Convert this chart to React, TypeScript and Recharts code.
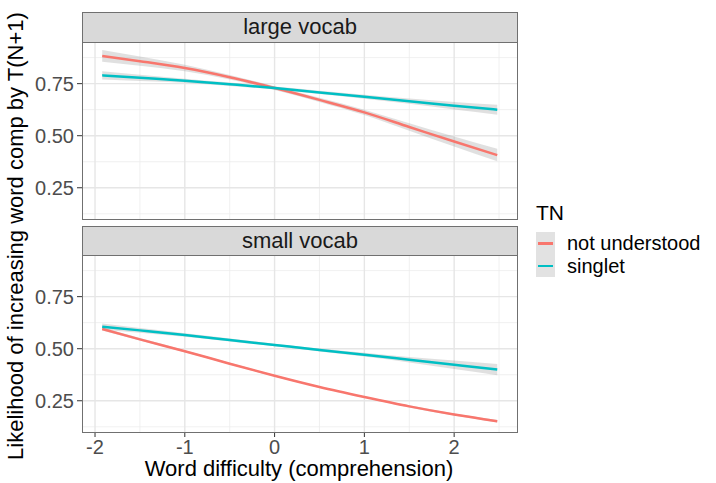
import { ComposedChart, Area, Line, XAxis, YAxis, CartesianGrid } from "recharts";

const xs = [-1.92, -1.5, -1, -0.5, 0, 0.5, 1, 1.5, 2, 2.48];

// large vocab facet
const largeNotUnderstood = [0.883, 0.858, 0.825, 0.781, 0.729, 0.672, 0.612, 0.542, 0.472, 0.407];
const largeNotUnderstoodSe = [0.028, 0.022, 0.016, 0.011, 0.009, 0.01, 0.013, 0.018, 0.024, 0.03];
const largeSinglet = [0.79, 0.778, 0.764, 0.747, 0.729, 0.708, 0.687, 0.666, 0.644, 0.625];
const largeSingletSe = [0.02, 0.015, 0.01, 0.008, 0.007, 0.008, 0.01, 0.013, 0.018, 0.024];

// small vocab facet
const smallNotUnderstood = [0.595, 0.545, 0.488, 0.428, 0.37, 0.316, 0.268, 0.223, 0.184, 0.152];
const smallNotUnderstoodSe = [0.008, 0.006, 0.005, 0.004, 0.004, 0.004, 0.004, 0.005, 0.005, 0.006];
const smallSinglet = [0.606, 0.588, 0.566, 0.542, 0.518, 0.494, 0.471, 0.447, 0.423, 0.4];
const smallSingletSe = [0.015, 0.011, 0.008, 0.007, 0.006, 0.007, 0.009, 0.013, 0.02, 0.027];

const xTicks = [-2, -1, 0, 1, 2];
const xMinor = [-1.5, -0.5, 0.5, 1.5, 2.5];
const yTicks = [0.25, 0.5, 0.75];
const yMinor = [0.125, 0.375, 0.625, 0.875];
const facetNames = ["large vocab", "small vocab"];
const legendTitle = "TN";
const legendItems = ["not understood", "singlet"];
const colors = ["#F8766D", "#00BFC4"];

const FONT = "'Liberation Sans', Arial, sans-serif";

function rows(nu: number[], nuSe: number[], sg: number[], sgSe: number[]) {
  return xs.map((x, i) => ({
    x,
    nu: nu[i],
    nuBand: [nu[i] - nuSe[i], nu[i] + nuSe[i]],
    sg: sg[i],
    sgBand: [sg[i] - sgSe[i], sg[i] + sgSe[i]],
  }));
}

const largeRows = rows(largeNotUnderstood, largeNotUnderstoodSe, largeSinglet, largeSingletSe);
const smallRows = rows(smallNotUnderstood, smallNotUnderstoodSe, smallSinglet, smallSingletSe);

const tickStyle = { fontSize: 20, fill: "#4d4d4d", fontFamily: FONT };

function Panel({ data, showX, height, margin }: { data: any[]; showX: boolean; height: number; margin: any }) {
  return (
    <ComposedChart width={716} height={height} data={data} margin={margin}>
      <CartesianGrid stroke="#ececec" strokeWidth={0.8} horizontalValues={yMinor} verticalValues={xMinor} />
      <CartesianGrid stroke="#e6e6e6" strokeWidth={1.4} horizontalValues={yTicks} verticalValues={xTicks} />
      <XAxis
        type="number"
        dataKey="x"
        domain={[-2.145, 2.7]}
        ticks={xTicks}
        hide={!showX}
        height={30}
        axisLine={false}
        tickSize={5}
        tickMargin={3}
        tickLine={{ stroke: "#333" }}
        tick={tickStyle}
        allowDataOverflow
      />
      <YAxis
        type="number"
        domain={[0.1, 0.95]}
        ticks={yTicks}
        width={82}
        axisLine={false}
        tickSize={5}
        tickMargin={3}
        tickLine={{ stroke: "#333" }}
        tick={tickStyle}
        tickFormatter={(v: number) => v.toFixed(2)}
        allowDataOverflow
      />
      <Area dataKey="nuBand" type="monotone" stroke="none" fill="#999999" fillOpacity={0.3} isAnimationActive={false} />
      <Line dataKey="nu" type="monotone" stroke={colors[0]} strokeWidth={2.5} dot={false} isAnimationActive={false} />
      <Area dataKey="sgBand" type="monotone" stroke="none" fill="#999999" fillOpacity={0.3} isAnimationActive={false} />
      <Line dataKey="sg" type="monotone" stroke={colors[1]} strokeWidth={2.5} dot={false} isAnimationActive={false} />
    </ComposedChart>
  );
}

const abs = (left: number, top: number, width: number, height: number): any => ({
  position: "absolute",
  left,
  top,
  width,
  height,
  boxSizing: "border-box",
});

export default function App() {
  return (
    <div style={{ position: "absolute", left: 0, top: 0, width: 716, height: 483, background: "#fff", fontFamily: FONT }}>
      <div style={abs(0, 0, 716, 225)}>
        <Panel data={largeRows} showX={false} height={225} margin={{ top: 42, right: 199, bottom: 6, left: 0 }} />
      </div>
      <div style={abs(0, 225, 716, 258)}>
        <Panel data={smallRows} showX={true} height={258} margin={{ top: 30, right: 199, bottom: 21, left: 0 }} />
      </div>

      {/* panel borders */}
      <div style={{ ...abs(82, 42, 436, 178), border: "1.5px solid #707070", pointerEvents: "none" }} />
      <div style={{ ...abs(82, 255, 436, 178), border: "1.5px solid #707070", pointerEvents: "none" }} />

      {/* strips */}
      {facetNames.map((name, i) => (
        <div
          key={name}
          style={{
            ...abs(82, i === 0 ? 12 : 226, 436, i === 0 ? 31 : 30),
            background: "#d9d9d9",
            border: "1.5px solid #707070",
            fontSize: 22,
            color: "#1a1a1a",
            textAlign: "center",
            lineHeight: "27px",
            whiteSpace: "nowrap",
          }}
        >
          {name}
        </div>
      ))}

      {/* axis titles */}
      <div
        style={{
          ...abs(15.5 - 240, 236 - 13, 480, 26),
          transform: "rotate(-90deg)",
          fontSize: 22,
          lineHeight: "26px",
          textAlign: "center",
          color: "#000",
          whiteSpace: "nowrap",
        }}
      >
        Likelihood of increasing word comp by T(N+1)
      </div>
      <div style={{ ...abs(59, 456, 480, 26), fontSize: 22, lineHeight: "26px", textAlign: "center", color: "#000", whiteSpace: "nowrap" }}>
        Word difficulty (comprehension)
      </div>

      {/* legend */}
      <div style={{ ...abs(536, 201, 60, 24), fontSize: 21, lineHeight: "24px", color: "#000" }}>{legendTitle}</div>
      {legendItems.map((item, i) => (
        <div key={item}>
          <div style={{ ...abs(536, 232 + i * 22.5, 19, 22.5), background: "#e2e2e2" }}>
            <div style={{ ...abs(2, 10, 15, 2.5), background: colors[i] }} />
          </div>
          <div style={{ ...abs(567, 232 + i * 22.5, 150, 22.5), fontSize: 20, lineHeight: "22.5px", color: "#000", whiteSpace: "nowrap" }}>
            {item}
          </div>
        </div>
      ))}
    </div>
  );
}
